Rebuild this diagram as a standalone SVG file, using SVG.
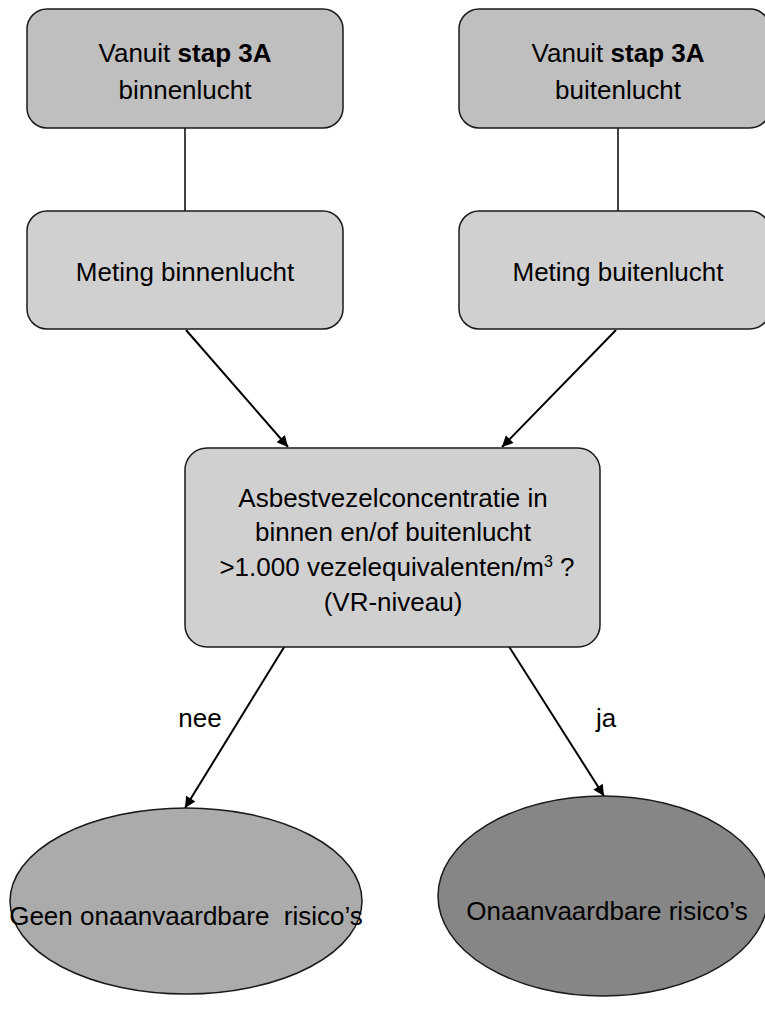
<svg xmlns="http://www.w3.org/2000/svg" width="765" height="1021" viewBox="0 0 765 1021">
<defs>
<marker id="arr" viewBox="0 0 10 10" refX="10" refY="5" markerWidth="12" markerHeight="11" markerUnits="userSpaceOnUse" orient="auto">
<path d="M0,0 L10,5 L0,10 z" fill="#000"/>
</marker>
<style>
.box{stroke:#1a1a1a;stroke-width:1.5}
.top{fill:#bfbfbf}
.mid{fill:#d0d0d0}
.t{font-family:"Liberation Sans",Arial,sans-serif;font-size:26px;fill:#000;text-anchor:middle}
.b{font-weight:bold}
.c{stroke:#000;stroke-width:1.5;fill:none}
.ca{stroke:#000;stroke-width:2;fill:none;marker-end:url(#arr)}
</style>
</defs>
<rect width="765" height="1021" fill="#fff"/>
<g id="connectors">
<line class="c" x1="185" y1="128" x2="185" y2="211"/>
<line class="c" x1="618" y1="128" x2="618" y2="211"/>
<line class="ca" x1="186" y1="330" x2="288" y2="447"/>
<line class="ca" x1="616" y1="330" x2="502" y2="447"/>
<line class="ca" x1="286" y1="644" x2="185" y2="808"/>
<line class="ca" x1="508" y1="645" x2="604" y2="796"/>
<text class="t" x="200" y="727">nee</text>
<text class="t" x="606" y="727">ja</text>
</g>
<g id="n1">
<rect class="box top" x="27" y="9" width="316" height="119" rx="20"/>
<text class="t" x="185" y="62">Vanuit <tspan class="b">stap 3A</tspan></text>
<text class="t" x="185" y="99">binnenlucht</text>
</g>
<g id="n2">
<rect class="box top" x="459" y="9" width="311" height="119" rx="20"/>
<text class="t" x="618" y="62">Vanuit <tspan class="b">stap 3A</tspan></text>
<text class="t" x="618" y="99">buitenlucht</text>
</g>
<g id="n3">
<rect class="box mid" x="27" y="211" width="316" height="118" rx="20"/>
<text class="t" x="185" y="281">Meting binnenlucht</text>
</g>
<g id="n4">
<rect class="box mid" x="459" y="211" width="311" height="118" rx="20"/>
<text class="t" x="618" y="281">Meting buitenlucht</text>
</g>
<g id="n5">
<rect class="box mid" x="185" y="448" width="415" height="199" rx="22"/>
<text class="t" x="393" y="507">Asbestvezelconcentratie in</text>
<text class="t" x="393" y="541">binnen en/of buitenlucht</text>
<text class="t" x="397" y="576">&gt;1.000 vezelequivalenten/m<tspan font-size="16" dy="-9">3</tspan><tspan dy="9"> ?</tspan></text>
<text class="t" x="393" y="611">(VR-niveau)</text>
</g>
<g id="n6">
<ellipse class="box" fill="#ababab" cx="186" cy="901" rx="176" ry="93"/>
<text class="t" x="186" y="925" xml:space="preserve">Geen onaanvaardbare  risico’s</text>
</g>
<g id="n7">
<ellipse class="box" fill="#868686" cx="603" cy="896" rx="165" ry="100"/>
<text class="t" x="607" y="920">Onaanvaardbare risico’s</text>
</g>
</svg>
